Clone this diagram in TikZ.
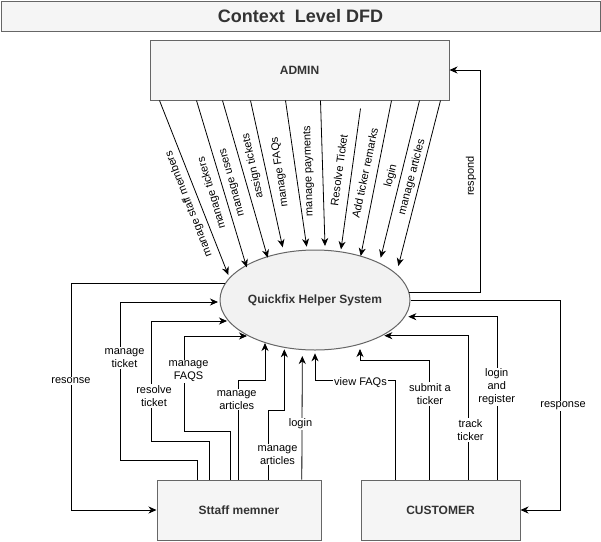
\documentclass[tikz,border=0pt]{standalone}
\usepackage{fontspec}
\setmainfont{Liberation Sans}
\usetikzlibrary{arrows.meta,calc,shapes.geometric}
\definecolor{boxfill}{HTML}{F5F5F5}
\definecolor{boxline}{HTML}{666666}
\definecolor{boxtext}{HTML}{333333}
\begin{document}
\begin{tikzpicture}[x=1pt,y=-1pt,
  box/.style={draw=boxline, fill=boxfill, line width=1pt, inner sep=0pt, font=\fontsize{12}{14}\selectfont\bfseries, text=boxtext},
  lbl/.style={font=\fontsize{11}{13}\selectfont, align=center, fill=white, inner sep=1pt},
  slbl/.style={font=\fontsize{11}{13}\selectfont, inner sep=0pt},
  arr/.style={draw=black, line width=0.8pt, -{Stealth[length=8pt,width=7pt,inset=2.5pt]}}]
\useasboundingbox (0,0) rectangle (601,541);
% title
\node[box, minimum width=599pt, minimum height=30pt, font=\fontsize{18}{20}\selectfont\bfseries] (title) at (300.5,16) {Context~~Level DFD};
% entities
\node[box, minimum width=299pt, minimum height=60pt] (admin) at (299.5,70) {ADMIN};
\node[box, ellipse, minimum width=190pt, minimum height=100pt, fill=boxfill!90!gray!60] (sys) at (315,300) {Quickfix Helper System};
\node[box, minimum width=164pt, minimum height=60pt] (staff) at (239,510) {Sttaff memner};
\node[box, minimum width=159pt, minimum height=60pt] (cust) at (440.5,510) {CUSTOMER};
% admin -> system
\coordinate (e1) at (228.3,275);
\coordinate (e2) at (246.7,267.3);
\coordinate (e3) at (267.7,257.7);
\coordinate (e4) at (282.7,247.3);
\coordinate (e5) at (306.7,246.7);
\coordinate (e6) at (325,246);
\coordinate (e7) at (341,249.3);
\coordinate (e8) at (360.7,256);
\coordinate (e9) at (380.7,257.7);
\coordinate (e10) at (398.3,266);
\draw[arr] ($(admin.south west)+(10,0)$) -- (e1);
\draw[arr] ($(admin.south west)+(47,0)$) -- (e2);
\draw[arr] ($(admin.south west)+(73,0)$) -- (e3);
\draw[arr] ($(admin.south west)+(101,0)$) -- (e4);
\draw[arr] ($(admin.south west)+(136,0)$) -- (e5);
\draw[arr] ($(admin.south west)+(171,0)$) -- (e6);
\draw[arr] ($(admin.south west)+(211,8)$) -- (e7);
\draw[arr] ($(admin.south west)+(242,0)$) -- (e8);
\draw[arr] ($(admin.south west)+(270,0)$) -- (e9);
\draw[arr] ($(admin.south west)+(291,0)$) -- (e10);
\node[slbl, rotate=111.2] (l1) at (189,204) {manage staff members};
\node[slbl, rotate=106.7] (l2) at (212,193) {manage tickers};
\node[slbl, rotate=105.6] (l3) at (233,182) {manage users};
\node[slbl, rotate=102.3] (l4) at (253,166) {assign tickets};
\node[slbl, rotate=98.2] (l5) at (280,172) {manage FAQs};
\node[slbl, rotate=91.6] (l6) at (309,171) {manage payments};
\node[slbl, rotate=82.3] (l7) at (339,170) {Resolve Ticket};
\node[slbl, rotate=78.2] (l8) at (365,173) {Add ticker remarks};
\node[slbl, rotate=76.2] (l9) at (391,176) {login};
\node[slbl, rotate=75.2] (l10) at (412,177) {manage articles};
% system -> admin (respond)
\coordinate (p0) at (408.8,292);
\draw[arr] (p0) -- (480,292) |- (admin.east);
\node[slbl, rotate=90] (lresp) at (471,176) {respond};
% system -> customer (response)
\draw[arr] (sys.east) -| ($(cust.east)+(40,0)$) -- (cust.east);
% system -> staff (resonse)
\coordinate (r0) at (225,283);
\draw[arr] (r0) -- (71,283) |- (staff.west);
% staff -> system
\coordinate (s1) at ($(staff.north west)+(41.3,0)$);
\coordinate (s2) at ($(staff.north west)+(53.3,0)$);
\coordinate (s3) at ($(staff.north west)+(73.7,0)$);
\coordinate (s4) at ($(staff.north west)+(82,0)$);
\coordinate (s5) at ($(staff.north west)+(112.3,0)$);
\coordinate (s6) at ($(staff.north west)+(145.3,0)$);
\coordinate (t1) at (218,302);
\coordinate (t2) at (227,321);
\coordinate (t3) at (247,336);
\coordinate (t4) at (265,343);
\coordinate (t5) at (284.3,349.3);
\coordinate (t6) at (302.3,356);
\draw[arr] (s1) |- (120,460) |- (t1);
\draw[arr] (s2) |- (151,441) |- (t2);
\draw[arr] (s3) |- (184,431) |- (t3);
\draw[arr] (s4) |- (265,380) -- (t4);
\draw[arr] (s5) |- (284.3,410) -- (t5);
\draw[arr] (s6) -- (t6);
% customer -> system
\coordinate (c1) at ($(cust.north west)+(34.7,0)$);
\coordinate (c2) at ($(cust.north west)+(69.3,0)$);
\coordinate (c3) at ($(cust.north west)+(108.3,0)$);
\coordinate (c4) at ($(cust.north west)+(136.7,0)$);
\coordinate (u1) at (315,353.3);
\coordinate (u2) at (360,349);
\coordinate (u3) at (384.3,335.7);
\coordinate (u4) at (408.3,316.7);
\draw[arr] (c1) |- (315,380) -- (u1);
\draw[arr] (c2) |- (360,360) -- (u2);
\draw[arr] (c3) |- (u3);
\draw[arr] (c4) |- (u4);
% labels on orthogonal connectors
\node[lbl] (lres) at (71,381) {resonse};
\node[lbl] (lmt) at (124.5,358) {manage\\ticket};
\node[lbl] (lrt) at (154,396) {resolve\\ticket};
\node[lbl] (lmf) at (188.5,371) {manage\\FAQS};
\node[lbl] (lma1) at (236.7,399.7) {manage\\articles};
\node[lbl] (lma2) at (277.5,454.7) {manage\\articles};
\node[lbl] (llg) at (300.5,424) {login};
\node[lbl] (lvf) at (360.5,383) {view FAQs};
\node[lbl] (lsub) at (430,394) {submit a\\ticker};
\node[lbl] (ltt) at (470.5,430) {track\\ticker};
\node[lbl] (llr) at (496.7,387) {login\\and\\register};
\node[lbl] (lrsp) at (563,406) {response};
\end{tikzpicture}
\end{document}
